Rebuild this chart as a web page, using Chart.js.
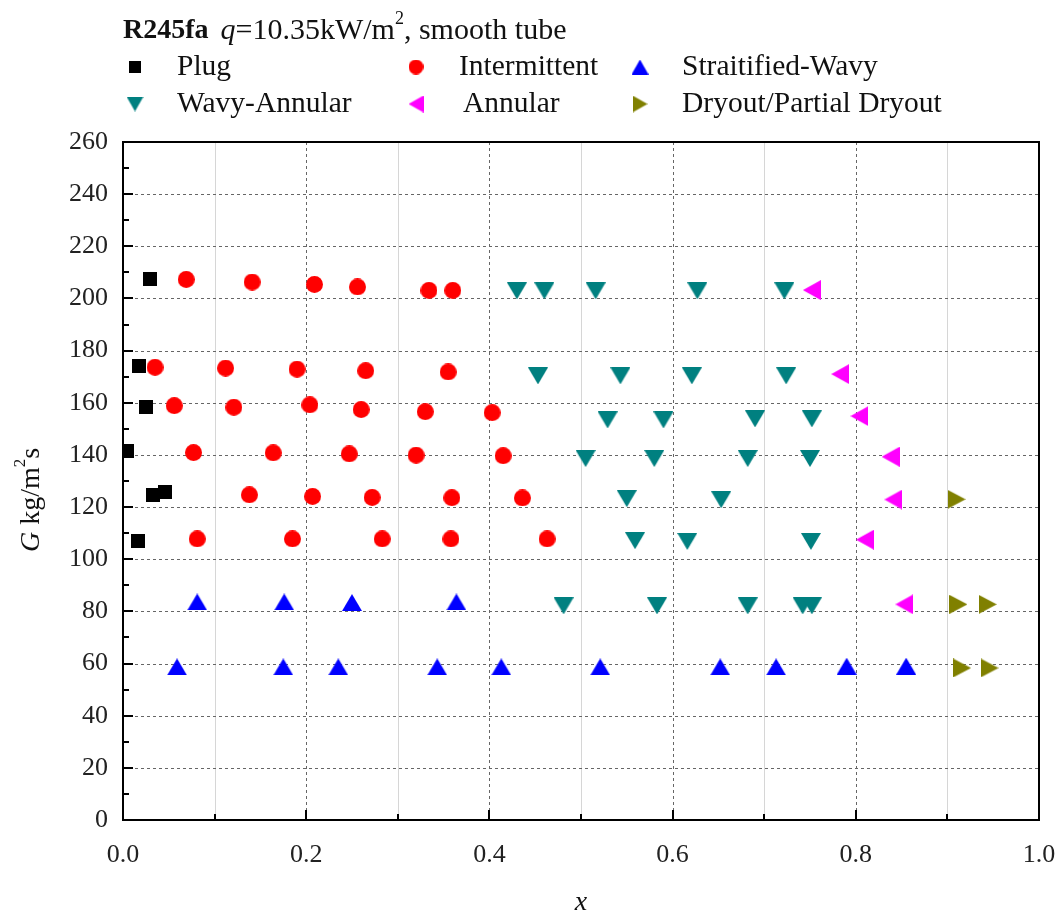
<!DOCTYPE html>
<html>
<head>
<meta charset="utf-8">
<title>R245fa flow pattern map</title>
<script src="https://cdn.jsdelivr.net/npm/chart.js@4.4.1/dist/chart.umd.min.js"></script>
<style>
  html, body { margin: 0; padding: 0; background: #fff; }
  canvas { display: block; }
</style>
</head>
<body>
<canvas id="chart" width="1059" height="910"></canvas>
<script>
// axis ticks
const xTicks = [0, 0.2, 0.4, 0.6, 0.8, 1.0];
const yTicks = [0, 20, 40, 60, 80, 100, 120, 140, 160, 180, 200, 220, 240, 260];

// flow regimes, vapour quality x against mass flux G
const plugX = [0.029, 0.018, 0.025, 0.004, 0.033, 0.046, 0.016];
const plugG = [207.4, 174.2, 158.5, 141.4, 124.7, 125.8, 107.1];

const intermittentX = [0.069, 0.141, 0.209, 0.256, 0.334, 0.360,
    0.035, 0.112, 0.190, 0.265, 0.355,
    0.056, 0.121, 0.204, 0.260, 0.330, 0.403,
    0.077, 0.164, 0.247, 0.320, 0.415,
    0.138, 0.207, 0.272, 0.359, 0.436,
    0.081, 0.185, 0.283, 0.358, 0.463];
const intermittentG = [207.3, 206.3, 205.4, 204.4, 203.1, 203.1,
    173.6, 173.3, 172.9, 172.3, 171.8,
    158.9, 158.3, 159.2, 157.4, 156.6, 156.2,
    140.9, 140.8, 140.4, 139.9, 139.7,
    124.7, 124.1, 123.7, 123.6, 123.5,
    107.8, 107.8, 107.8, 107.8, 107.8];

const stratWavyX = [0.081, 0.176, 0.250, 0.364,
    0.059, 0.175, 0.235, 0.343, 0.413, 0.521, 0.652, 0.713, 0.790, 0.855];
const stratWavyG = [83.6, 83.6, 83.4, 83.6,
    58.7, 58.7, 58.7, 58.7, 58.7, 58.7, 58.7, 58.7, 59.0, 59.0];

const wavyAnnularX = [0.430, 0.460, 0.516, 0.627, 0.722,
    0.453, 0.543, 0.621, 0.724,
    0.529, 0.590, 0.690, 0.752,
    0.505, 0.580, 0.682, 0.750,
    0.550, 0.653,
    0.559, 0.616, 0.751,
    0.481, 0.583, 0.682, 0.742, 0.752];
const wavyAnnularG = [202.9, 202.9, 202.9, 202.9, 202.9,
    170.3, 170.3, 170.3, 170.3,
    153.4, 153.4, 153.8, 153.8,
    138.6, 138.6, 138.6, 138.6,
    123.2, 122.8,
    107.1, 106.8, 106.8,
    82.1, 82.1, 82.1, 82.1, 82.1];

const annularX = [0.752, 0.783, 0.804, 0.838, 0.841, 0.810, 0.853];
const annularG = [203.2, 171.0, 154.9, 139.3, 122.9, 107.5, 82.7];

const dryoutX = [0.910, 0.912, 0.944, 0.916, 0.946];
const dryoutG = [123.0, 82.7, 82.7, 58.3, 58.3];

const serif = '"Liberation Serif", "Times New Roman", serif';

// small offscreen canvases used as point styles (centred on their bounding box)
function makeMarker(shape, color, w, h) {
    const c = document.createElement('canvas');
    c.width = w;
    c.height = h;
    const g = c.getContext('2d');
    g.fillStyle = color;
    g.beginPath();
    if (shape === 'square') {
        g.rect(0, 0, w, h);
    } else if (shape === 'circle') {
        g.arc(w / 2, h / 2, Math.min(w, h) / 2, 0, Math.PI * 2);
    } else if (shape === 'up') {
        g.moveTo(w / 2, 0); g.lineTo(w, h); g.lineTo(0, h);
    } else if (shape === 'down') {
        g.moveTo(0, 0); g.lineTo(w, 0); g.lineTo(w / 2, h);
    } else if (shape === 'left') {
        g.moveTo(0, h / 2); g.lineTo(w, 0); g.lineTo(w, h);
    } else if (shape === 'right') {
        g.moveTo(0, 0); g.lineTo(w, h / 2); g.lineTo(0, h);
    }
    g.closePath();
    g.fill();
    return c;
}

const regimes = [
    { label: 'Plug', xs: plugX, gs: plugG, shape: 'square', color: '#000000', size: [14, 14], legend: [12, 12] },
    { label: 'Intermittent', xs: intermittentX, gs: intermittentG, shape: 'circle', color: '#ff0000', size: [17, 17], legend: [15, 15] },
    { label: 'Straitified-Wavy', xs: stratWavyX, gs: stratWavyG, shape: 'up', color: '#0000ff', size: [20, 17], legend: [17, 15] },
    { label: 'Wavy-Annular', xs: wavyAnnularX, gs: wavyAnnularG, shape: 'down', color: '#008080', size: [20, 17], legend: [17, 15] },
    { label: 'Annular', xs: annularX, gs: annularG, shape: 'left', color: '#ff00ff', size: [18, 20], legend: [15, 17] },
    { label: 'Dryout/Partial Dryout', xs: dryoutX, gs: dryoutG, shape: 'right', color: '#808000', size: [18, 19], legend: [15, 17] }
];

const datasets = regimes.map(r => ({
    label: r.label,
    data: r.xs.map((x, i) => ({ x: x, y: r.gs[i] })),
    pointStyle: makeMarker(r.shape, r.color, r.size[0], r.size[1]),
    pointRadius: 9,
    backgroundColor: r.color,
    borderColor: r.color,
    showLine: false
}));

// grid, frame and inward ticks
const framePlugin = {
    id: 'frame',
    beforeDatasetsDraw(chart) {
        const { ctx, chartArea: a, scales: { x, y } } = chart;
        ctx.save();
        ctx.lineWidth = 1;
        ctx.strokeStyle = '#d6d6d6';
        for (let i = 0; i < xTicks.length - 1; i++) {
            const px = Math.round(x.getPixelForValue((xTicks[i] + xTicks[i + 1]) / 2)) + 0.5;
            ctx.beginPath(); ctx.moveTo(px, a.top); ctx.lineTo(px, a.bottom); ctx.stroke();
        }
        ctx.setLineDash([3, 3]);
        ctx.strokeStyle = '#666666';
        xTicks.slice(1, -1).forEach(v => {
            const px = Math.round(x.getPixelForValue(v)) + 0.5;
            ctx.beginPath(); ctx.moveTo(px, a.top); ctx.lineTo(px, a.bottom); ctx.stroke();
        });
        yTicks.slice(1, -1).forEach(v => {
            const py = Math.round(y.getPixelForValue(v)) + 0.5;
            ctx.beginPath(); ctx.moveTo(a.left, py); ctx.lineTo(a.right, py); ctx.stroke();
        });
        ctx.restore();
    },
    afterDatasetsDraw(chart) {
        const { ctx, chartArea: a, scales: { x, y } } = chart;
        ctx.save();
        ctx.strokeStyle = '#000';
        ctx.lineWidth = 2;
        ctx.strokeRect(a.left, a.top, a.right - a.left, a.bottom - a.top);
        ctx.beginPath();
        xTicks.forEach((v, i) => {
            const px = Math.round(x.getPixelForValue(v));
            ctx.moveTo(px, a.bottom); ctx.lineTo(px, a.bottom - 10);
            if (i < xTicks.length - 1) {
                const mx = Math.round(x.getPixelForValue((v + xTicks[i + 1]) / 2));
                ctx.moveTo(mx, a.bottom); ctx.lineTo(mx, a.bottom - 6);
            }
        });
        yTicks.forEach((v, i) => {
            const py = Math.round(y.getPixelForValue(v));
            ctx.moveTo(a.left, py); ctx.lineTo(a.left + 10, py);
            if (i < yTicks.length - 1) {
                const my = Math.round(y.getPixelForValue((v + yTicks[i + 1]) / 2));
                ctx.moveTo(a.left, my); ctx.lineTo(a.left + 6, my);
            }
        });
        ctx.stroke();
        ctx.restore();
    },
    afterDraw(chart) {
        const { ctx, chartArea: a } = chart;
        ctx.save();
        ctx.fillStyle = '#111';
        ctx.textBaseline = 'middle';

        // title line: R245fa  q=10.35kW/m², smooth tube
        let tx = 123;
        const ty = 31;
        const piece = (text, font, dy) => {
            ctx.font = font;
            ctx.fillText(text, tx, ty + (dy || 0));
            tx += ctx.measureText(text).width;
        };
        piece('R245fa', 'bold 28px ' + serif);
        tx += 12;
        piece('q', 'italic 30px ' + serif);
        piece('=10.35kW/m', '30px ' + serif);
        piece('2', '18px ' + serif, -12);
        piece(', smooth tube', '30px ' + serif);

        // legend, three columns
        const colMarker = [135, 416, 640];
        const colText = [177, 459, 682];
        const rowY = [67, 104];
        regimes.forEach((r, i) => {
            const col = i % 3, row = Math.floor(i / 3);
            const m = makeMarker(r.shape, r.color, r.legend[0], r.legend[1]);
            ctx.drawImage(m, colMarker[col] - m.width / 2, rowY[row] - m.height / 2);
            ctx.font = '29.5px ' + serif;
            ctx.fillText(r.label, colText[col] + (i === 4 ? 4 : 0), rowY[row]);
        });

        // y axis title: G kg/m²s
        ctx.translate(32, 500);
        ctx.rotate(-Math.PI / 2);
        const parts = [
            ['G', 'italic 28px ' + serif, 0],
            [' kg/m', '28px ' + serif, 0],
            ['2', '17px ' + serif, -11],
            ['s', '28px ' + serif, 0]
        ];
        let total = 0;
        parts.forEach(p => { ctx.font = p[1]; total += ctx.measureText(p[0]).width; });
        let px = -total / 2;
        parts.forEach(p => {
            ctx.font = p[1];
            ctx.fillText(p[0], px, p[2]);
            px += ctx.measureText(p[0]).width;
        });
        ctx.setTransform(1, 0, 0, 1, 0, 0);

        // x axis title
        ctx.font = 'italic 28px ' + serif;
        ctx.textAlign = 'center';
        ctx.textBaseline = 'alphabetic';
        ctx.fillText('x', (a.left + a.right) / 2, 910);
        ctx.restore();
    }
};

new Chart(document.getElementById('chart'), {
    type: 'scatter',
    data: { datasets: datasets },
    options: {
        responsive: false,
        animation: false,
        layout: { padding: { top: 142, right: 20, left: 0, bottom: 0 } },
        plugins: {
            legend: { display: false },
            title: { display: false },
            tooltip: { enabled: false }
        },
        scales: {
            x: {
                type: 'linear',
                min: 0,
                max: 1,
                afterBuildTicks: s => { s.ticks = xTicks.map(v => ({ value: v })); },
                afterFit: s => { s.height = 90; s.paddingLeft = 0; s.paddingRight = 0; },
                grid: { display: false, drawTicks: false },
                border: { display: false },
                ticks: {
                    padding: 20,
                    color: '#222',
                    font: { family: serif, size: 26 },
                    callback: v => Number(v).toFixed(1)
                }
            },
            y: {
                type: 'linear',
                min: 0,
                max: 260,
                afterBuildTicks: s => { s.ticks = yTicks.map(v => ({ value: v })); },
                afterFit: s => { s.width = 123; s.paddingTop = 0; s.paddingBottom = 0; },
                grid: { display: false, drawTicks: false },
                border: { display: false },
                ticks: {
                    padding: 15,
                    color: '#222',
                    font: { family: serif, size: 26 },
                    callback: v => String(v)
                }
            }
        }
    },
    plugins: [framePlugin]
});
</script>
</body>
</html>
